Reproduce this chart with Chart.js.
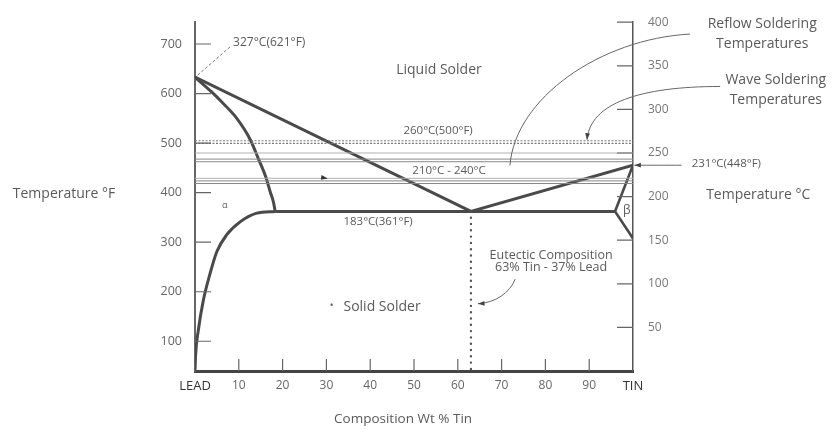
<!DOCTYPE html>
<html>
<head>
<meta charset="utf-8">
<script src="https://cdn.jsdelivr.net/npm/chart.js@4.4.1/dist/chart.umd.min.js"></script>
<style>
    html, body { margin: 0; padding: 0; background: #fff; }
    canvas { display: block; }
</style>
</head>
<body>
<canvas id="phase" width="835" height="430"></canvas>
<script>
// axis ticks
const compTicks = [0, 10, 20, 30, 40, 50, 60, 70, 80, 90, 100];
const compLabels = ["LEAD", "10", "20", "30", "40", "50", "60", "70", "80", "90", "TIN"];
const tempFTicks = [100, 200, 300, 400, 500, 600, 700];
const tempCTicks = [50, 100, 150, 200, 250, 300, 350, 400];

// phase boundaries (x = wt % tin, y = deg C)
const liquidusX = [0, 63, 100];
const liquidusY = [337, 183, 236];
const solidusX = [0, 3.8, 6.4, 9.5, 12.6, 14.5, 16.2, 17.2, 17.9, 18.3];
const solidusY = [337, 320, 307, 290, 265.5, 243, 222, 205, 194, 183];
const solvusX = [18.3, 14.1, 10.3, 7.2, 5.0, 3.4, 1.9, 0.75, 0.16, 0];
const solvusY = [183, 181, 171, 156, 137, 111, 81, 46.5, 20, 0];
const eutecticX = [18.3, 95.9];
const eutecticY = [183, 183];
const betaX = [100, 95.9, 100];
const betaY = [236, 183, 152];
const eutecticComp = 63;

// soldering temperature bands (deg C)
const waveLines = [264, 261];
const reflowLines = [250, 243, 240, 221, 218, 215];

const pts = (xs, ys) => xs.map((x, i) => ({ x: x, y: ys[i] }));
const across = (t) => [{ x: 0, y: t }, { x: 100, y: t }];
const isEnd = (c) => c.tick && (c.tick.value == 0 || c.tick.value == 100);

const ink = "#4a4a4a";
const textCol = "#5a5a5a";
const font = "'Open Sans', 'Noto Sans', sans-serif";

let datasets = [];
waveLines.forEach(t => {
    datasets.push({ data: across(t), borderColor: "#7a7a7a", borderWidth: 1.1, borderDash: [2, 1.5] });
});
reflowLines.forEach((t, i) => {
    datasets.push({ data: across(t), borderColor: (i == 0 || i == 3) ? "#b0b0b0" : "#888", borderWidth: 1 });
});
datasets.push({ data: [{ x: eutecticComp, y: 183 }, { x: eutecticComp, y: 0 }], borderColor: "#555", borderWidth: 2.4, borderDash: [0, 6.3], borderCapStyle: "round" });
datasets.push({ data: pts(liquidusX, liquidusY), borderColor: ink, borderWidth: 3 });
datasets.push({ data: pts(solidusX, solidusY), borderColor: ink, borderWidth: 3, cubicInterpolationMode: "monotone" });
datasets.push({ data: pts(solvusX, solvusY), borderColor: ink, borderWidth: 3, cubicInterpolationMode: "monotone" });
datasets.push({ data: pts(eutecticX, eutecticY), borderColor: ink, borderWidth: 3 });
datasets.push({ data: pts(betaX, betaY), borderColor: ink, borderWidth: 2.6 });
datasets.forEach(d => {
    d.showLine = true;
    d.pointRadius = 0;
    d.fill = false;
    d.yAxisID = "y";
});

// text placed in data units
const notes = [
    { text: "327°C(621°F)", x: 8.7, y: 377, align: "left", size: 12 },
    { text: "Liquid Solder", x: 55.7, y: 345.6, align: "center", size: 14 },
    { text: "260°C(500°F)", x: 55.5, y: 275.4, align: "center", size: 11.5 },
    { text: "210°C - 240°C", x: 58, y: 230, align: "center", size: 11.5 },
    { text: "183°C(361°F)", x: 41.8, y: 171, align: "center", size: 11.5 },
    { text: "231°C(448°F)", x: 113.4, y: 237.2, align: "left", size: 11.5 },
    { text: "Reflow Soldering", x: 129.5, y: 397.7, align: "center", size: 14 },
    { text: "Temperatures", x: 129.5, y: 375.1, align: "center", size: 14 },
    { text: "Wave Soldering", x: 132.6, y: 333.5, align: "center", size: 14 },
    { text: "Temperatures", x: 132.6, y: 310.8, align: "center", size: 14 },
    { text: "Temperature °C", x: 116.7, y: 201.7, align: "left", size: 14 },
    { text: "Temperature °F", x: -41.6, y: 203.2, align: "left", size: 14 },
    { text: "Eutectic Composition", x: 81.3, y: 132.6, align: "center", size: 12.5 },
    { text: "63% Tin - 37% Lead", x: 81.3, y: 118.2, align: "center", size: 12.5 },
    { text: "•", x: 31.2, y: 74.8, align: "center", size: 10 },
    { text: "Solid Solder", x: 33.9, y: 72.9, align: "left", size: 14 },
    { text: "α", x: 6.8, y: 190, align: "center", size: 9 },
    { text: "β", x: 98.6, y: 184, align: "center", size: 12 },
    { text: "Composition Wt % Tin", x: 47.5, y: -55.5, align: "center", size: 13.5 },
];

// leader lines: cubic curves in data units, optional arrow at the end
const leaders = [
    { p: [[113, 386.4], [92.5, 380.7], [73.1, 312.7], [71.9, 235.7]], arrow: false },
    { p: [[119.9, 326.3], [101.6, 326.3], [90.2, 307.1], [89.5, 265.2]], arrow: true },
    { p: [[73.1, 105.4], [71.9, 89.5], [68.5, 78.2], [64.6, 77.1]], arrow: true },
    { p: [[111.1, 236], [108, 236], [104, 236], [100.3, 236]], arrow: true },
];

function arrowHead(ctx, x, y, ang) {
    ctx.beginPath();
    ctx.moveTo(x, y);
    ctx.lineTo(x - 7 * Math.cos(ang - 0.35), y - 7 * Math.sin(ang - 0.35));
    ctx.lineTo(x - 7 * Math.cos(ang + 0.35), y - 7 * Math.sin(ang + 0.35));
    ctx.closePath();
    ctx.fill();
}

const decorations = {
    id: "decorations",
    afterDraw(chart) {
        const { ctx, chartArea: a, scales } = chart;
        const sx = scales.x, sy = scales.y, sf = scales.yF;
        ctx.save();

        // inward tick marks
        ctx.strokeStyle = "#666";
        ctx.lineWidth = 1.2;
        ctx.beginPath();
        sf.ticks.forEach(t => {
            const py = sf.getPixelForValue(t.value);
            ctx.moveTo(a.left, py);
            ctx.lineTo(a.left + 16, py);
        });
        sy.ticks.forEach(t => {
            if (t.value <= 0) return;
            const py = sy.getPixelForValue(t.value);
            ctx.moveTo(a.right - 16, py);
            ctx.lineTo(a.right, py);
        });
        sx.ticks.forEach(t => {
            if (t.value <= 0 || t.value >= 100) return;
            const px = sx.getPixelForValue(t.value);
            ctx.moveTo(px, a.bottom);
            ctx.lineTo(px, a.bottom - 12);
        });
        ctx.stroke();

        // dashed pointer to the lead melting point
        ctx.strokeStyle = "#777";
        ctx.lineWidth = 1;
        ctx.setLineDash([3, 2]);
        ctx.beginPath();
        ctx.moveTo(sx.getPixelForValue(8), sy.getPixelForValue(371.7));
        ctx.lineTo(sx.getPixelForValue(0.5), sy.getPixelForValue(338.8));
        ctx.stroke();
        ctx.setLineDash([]);

        // curved leaders
        ctx.strokeStyle = "#666";
        ctx.fillStyle = "#444";
        leaders.forEach(l => {
            const q = l.p.map(p => [sx.getPixelForValue(p[0]), sy.getPixelForValue(p[1])]);
            ctx.beginPath();
            ctx.moveTo(q[0][0], q[0][1]);
            ctx.bezierCurveTo(q[1][0], q[1][1], q[2][0], q[2][1], q[3][0], q[3][1]);
            ctx.stroke();
            if (l.arrow) {
                const ang = Math.atan2(q[3][1] - q[2][1], q[3][0] - q[2][0]);
                arrowHead(ctx, q[3][0], q[3][1], ang);
            }
        });

        // small stray mark in the band
        ctx.fillStyle = "#333";
        arrowHead(ctx, sx.getPixelForValue(30.3), sy.getPixelForValue(220.8), 0.15);

        // text
        ctx.fillStyle = textCol;
        ctx.textBaseline = "middle";
        notes.forEach(n => {
            ctx.font = n.size + "px " + font;
            ctx.textAlign = n.align;
            ctx.fillText(n.text, sx.getPixelForValue(n.x), sy.getPixelForValue(n.y));
        });
        ctx.restore();
    }
};

const config = {
    type: "scatter",
    data: { datasets: datasets },
    options: {
        responsive: false,
        animation: false,
        layout: { padding: { top: 18, left: 0, right: 0, bottom: 0 } },
        plugins: {
            legend: { display: false },
            tooltip: { enabled: false },
        },
        scales: {
            x: {
                type: "linear",
                position: "bottom",
                min: 0,
                max: 100,
                afterFit: (s) => { s.height = 59; },
                afterBuildTicks: (s) => { s.ticks = compTicks.map(v => ({ value: v })); },
                grid: { display: false, drawTicks: false },
                border: { display: true, color: "#444", width: 3 },
                ticks: {
                    autoSkip: false,
                    maxRotation: 0,
                    padding: 7,
                    color: (c) => isEnd(c) ? "#333" : "#666",
                    font: (c) => isEnd(c)
                        ? { family: font, size: 13 }
                        : { family: "'Liberation Sans Narrow', 'Open Sans', sans-serif", size: 12 },
                    callback: (v) => compLabels[compTicks.indexOf(v)],
                },
            },
            yF: {
                type: "linear",
                position: "left",
                min: 40,
                max: 744,
                afterFit: (s) => { s.width = 195; },
                afterBuildTicks: (s) => { s.ticks = tempFTicks.map(v => ({ value: v })); },
                grid: { display: false, drawTicks: false },
                border: { display: true, color: "#666", width: 2 },
                ticks: { padding: 13, color: "#666", font: { family: font, size: 12.5 } },
            },
            y: {
                type: "linear",
                position: "right",
                min: 0,
                max: 400,
                afterFit: (s) => { s.width = 202; },
                afterBuildTicks: (s) => { s.ticks = tempCTicks.map(v => ({ value: v })); },
                grid: { display: false, drawTicks: false },
                border: { display: true, color: "#555", width: 1.5 },
                ticks: { padding: 15, color: "#777", font: { family: font, size: 12 } },
            },
        },
    },
    plugins: [decorations],
};

const phaseChart = new Chart(document.getElementById("phase"), config);
</script>
</body>
</html>
